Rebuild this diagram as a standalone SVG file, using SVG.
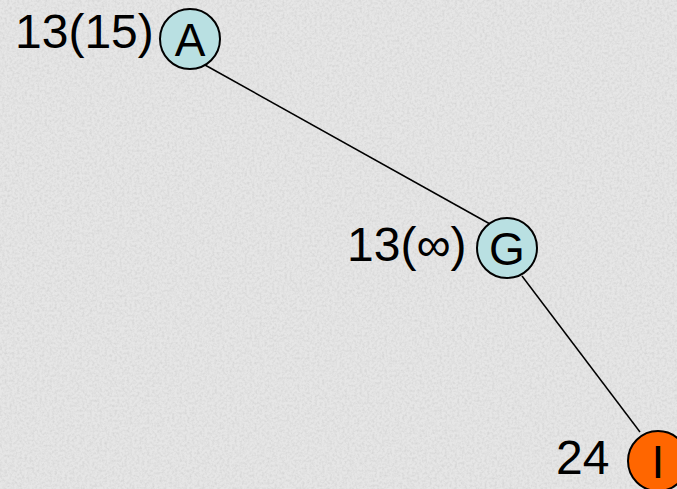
<svg xmlns="http://www.w3.org/2000/svg" width="677" height="489" viewBox="0 0 677 489">
<style>
.lbl{font-family:"Liberation Sans",Arial,sans-serif;font-size:48px;fill:#000}
.in{font-family:"Liberation Sans",Arial,sans-serif;font-size:46px;fill:#000;text-anchor:middle}
.nb{fill:#B9E0E2;stroke:#000;stroke-width:2}
.no{fill:#FF6600;stroke:#000;stroke-width:2}
.edge{stroke:#000;stroke-width:1.5;fill:none}
</style>
<defs>
<filter id="tex" x="0" y="0" width="100%" height="100%">
<feTurbulence type="fractalNoise" baseFrequency="0.4" numOctaves="3" seed="4"/>
<feColorMatrix type="matrix" values="0 0 0 0 0.6  0 0 0 0 0.6  0 0 0 0 0.6  1.2 0 0 0 -0.45"/>
</filter>
</defs>
<rect width="677" height="489" fill="#e6e6e6"/>
<rect width="677" height="489" filter="url(#tex)"/>
<g id="connectors">
<line class="edge" x1="205" y1="65" x2="490" y2="224"/>
<line class="edge" x1="522" y1="276" x2="640" y2="432"/>
</g>
<g id="nodeA">
<circle class="nb" cx="190" cy="39" r="30"/>
<text class="in" x="190" y="56">A</text>
<text class="lbl" x="15" y="48">13(15)</text>
</g>
<g id="nodeG">
<circle class="nb" cx="507" cy="248" r="30"/>
<text class="in" x="507" y="265">G</text>
<text class="lbl" x="347" y="261">13(∞)</text>
</g>
<g id="nodeI">
<circle class="no" cx="658" cy="461" r="30"/>
<text class="in" x="658" y="478">I</text>
<text class="lbl" x="556" y="474">24</text>
</g>
</svg>
